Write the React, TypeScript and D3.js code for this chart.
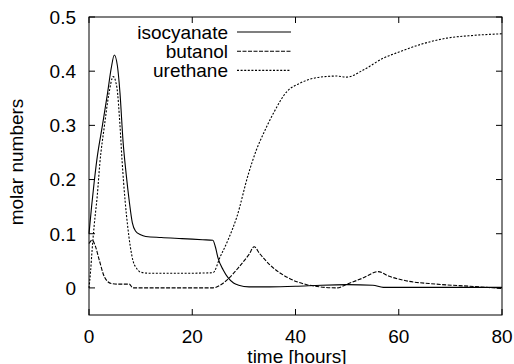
import React from "react";
import * as d3 from "d3";

const W = 514, H = 364;
const margin = { left: 89, right: 12, top: 17, bottom: 49 };

const xTicks = [0, 20, 40, 60, 80];
const yTicks = [0, 0.1, 0.2, 0.3, 0.4, 0.5];
const yTickLabels = ["0", "0.1", "0.2", "0.3", "0.4", "0.5"];

const seriesNames = ["isocyanate", "butanol", "urethane"];

// [time, value]
const isocyanate: [number, number][] = [
  [0, 0.1], [0.5, 0.15], [1.0, 0.195], [1.5, 0.235], [2.6, 0.3], [3.6, 0.36],
  [4.3, 0.405], [4.9, 0.43], [5.5, 0.41], [6.0, 0.36], [6.6, 0.27], [7.2, 0.21],
  [7.8, 0.16], [8.4, 0.12], [9.0, 0.105], [10, 0.098], [11, 0.095], [14, 0.093],
  [18, 0.091], [22, 0.089], [24, 0.088], [24.5, 0.075], [25, 0.055], [26, 0.033],
  [27, 0.018], [28, 0.009], [29, 0.005], [31, 0.002], [35, 0.002], [40, 0.003],
  [45, 0.005], [50, 0.006], [55, 0.005], [57, 0.001], [65, 0.001], [80, 0.001],
];

const butanol: [number, number][] = [
  [0, 0.082], [0.6, 0.088], [1.2, 0.078], [2.0, 0.051], [3.0, 0.02], [4.3, 0.008],
  [5.5, 0.007], [7.8, 0.007], [8.5, 0.0], [12, 0.0], [24, 0.0], [25.4, 0.005],
  [27, 0.017], [29, 0.038], [31, 0.062], [32, 0.076], [33, 0.064], [35.1, 0.042],
  [38.5, 0.019], [42.2, 0.006], [44.7, 0.002], [48, 0.0], [50, 0.007], [53, 0.018],
  [56, 0.03], [58, 0.022], [61, 0.014], [67.3, 0.007], [73.8, 0.003], [80, -0.001],
];

const urethane: [number, number][] = [
  [0, 0.0], [0.3, 0.03], [0.6, 0.07], [1.0, 0.115], [1.6, 0.17], [2.1, 0.23],
  [3.0, 0.3], [3.8, 0.355], [4.7, 0.39], [5.4, 0.37], [6.0, 0.3], [6.4, 0.236],
  [7.0, 0.16], [7.5, 0.113], [8.5, 0.051], [9.3, 0.035], [10, 0.029], [12, 0.027],
  [18, 0.027], [24, 0.028], [25.4, 0.057], [27, 0.09], [28.6, 0.13], [30.9, 0.211],
  [32.4, 0.254], [33.8, 0.285], [35.7, 0.322], [38.3, 0.362], [40.9, 0.378],
  [44.7, 0.389], [48, 0.391], [49.9, 0.389], [53.1, 0.402], [57, 0.424],
  [60.2, 0.436], [64.1, 0.449], [69.3, 0.461], [74.4, 0.466], [80, 0.469],
];

const seriesData = [isocyanate, butanol, urethane];
const dashes = ["none", "4,1.5", "2,1.6"];

export default function App() {
  const x = d3.scaleLinear().domain([0, 80]).range([margin.left, W - margin.right]);
  const y = d3.scaleLinear().domain([-0.05, 0.5]).range([H - margin.bottom, margin.top]);
  const line = d3
    .line<[number, number]>()
    .x((d) => x(d[0]))
    .y((d) => y(d[1]))
    .curve(d3.curveMonotoneX);

  const x0 = x(0), x1 = x(80), yT = y(0.5), yB = y(-0.05);
  const font = "'Liberation Sans', Arial, Helvetica, sans-serif";
  const fs = 19;
  const tl = 6;

  return (
    <svg
      width={W}
      height={H}
      style={{ position: "absolute", left: 0, top: 0, background: "#fff" }}
      fontFamily={font}
    >
      <rect x={0} y={0} width={W} height={H} fill="#fff" />
      {yTicks.map((t, i) => (
        <g key={"y" + i}>
          <line x1={x0} x2={x0 + tl} y1={y(t)} y2={y(t)} stroke="#000" strokeWidth={1} />
          <line x1={x1} x2={x1 - tl} y1={y(t)} y2={y(t)} stroke="#000" strokeWidth={1} />
          <text x={x0 - 13} y={y(t)} dy="0.36em" textAnchor="end" fontSize={fs} fill="#000">
            {yTickLabels[i]}
          </text>
        </g>
      ))}
      {xTicks.map((t, i) => (
        <g key={"x" + i}>
          <line x1={x(t)} x2={x(t)} y1={yB} y2={yB - tl} stroke="#000" strokeWidth={1} />
          <line x1={x(t)} x2={x(t)} y1={yT} y2={yT + tl} stroke="#000" strokeWidth={1} />
          <text x={x(t)} y={yB + 28} textAnchor="middle" fontSize={fs} fill="#000">
            {t}
          </text>
        </g>
      ))}
      <rect x={x0} y={yT} width={x1 - x0} height={yB - yT} fill="none" stroke="#000" strokeWidth={1} />
      {seriesData.map((s, i) => (
        <path
          key={"s" + i}
          d={line(s) || ""}
          fill="none"
          stroke="#000"
          strokeWidth={1.1}
          strokeDasharray={dashes[i]}
        />
      ))}
      {seriesNames.map((n, i) => {
        const ly = 32 + i * 19.2;
        return (
          <g key={"l" + i}>
            <text x={228} y={ly} dy="0.36em" textAnchor="end" fontSize={fs} fill="#000">
              {n}
            </text>
            <line x1={237} x2={291} y1={ly} y2={ly} stroke="#000" strokeWidth={1.1} strokeDasharray={dashes[i]} />
          </g>
        );
      })}
      <text x={297} y={362.5} textAnchor="middle" fontSize={fs} fill="#000">
        time [hours]
      </text>
      <text
        transform={`translate(23, ${(yT + yB) / 2 - 4}) rotate(-90)`}
        textAnchor="middle"
        fontSize={fs}
        fill="#000"
      >
        molar numbers
      </text>
    </svg>
  );
}
